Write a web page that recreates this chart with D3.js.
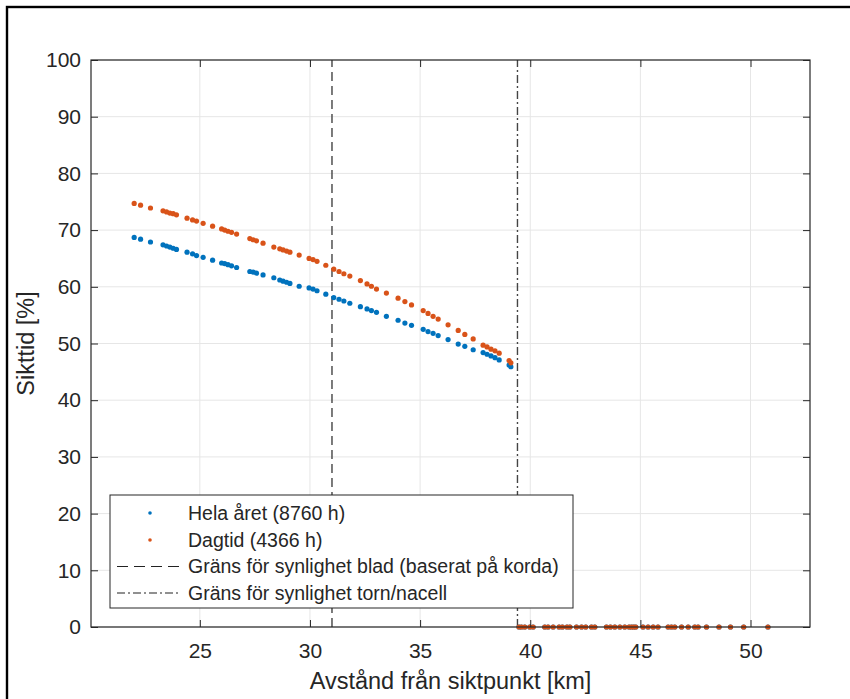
<!DOCTYPE html>
<html>
<head>
<meta charset="utf-8">
<script src="https://cdn.jsdelivr.net/npm/d3@7"></script>
<style>
body { margin: 0; background: #fff; }
svg text { font-family: "Liberation Sans", Arial, sans-serif; fill: #262626; }
.grid line { stroke: #e6e6e6; stroke-width: 1; }
.tick line { stroke: #262626; }
</style>
</head>
<body>
<svg class="chartsvg" width="850" height="699"></svg>
<script>
// distance to each site (km)
var avstand = [22.02, 22.31, 22.76, 23.33, 23.49, 23.64, 23.79, 23.94, 24.42, 24.67,
	24.85, 25.15, 25.58, 25.99, 26.13, 26.28, 26.44, 26.67, 27.27, 27.42,
	27.57, 27.87, 28.36, 28.63, 28.78, 28.94, 29.09, 29.51, 29.96, 30.14,
	30.32, 30.72, 31.08, 31.32, 31.54, 31.81, 32.29, 32.59, 32.79, 33.02,
	33.47, 34.0, 34.31, 34.61, 35.14, 35.36, 35.59, 35.82, 36.27, 36.73,
	37.03, 37.41, 37.86, 38.04, 38.22, 38.40, 38.59, 39.04, 39.12,
	39.49, 39.60, 39.75, 39.98, 40.13, 40.66, 40.81, 41.04, 41.31, 41.46,
	41.67, 41.80, 42.10, 42.33, 42.52, 42.78, 42.93, 43.46, 43.64, 43.84,
	44.07, 44.29, 44.49, 44.60, 44.70, 44.79, 45.12, 45.35, 45.58, 45.80,
	46.26, 46.41, 46.56, 46.87, 47.17, 47.47, 47.62, 48.00, 48.57, 49.09,
	49.69, 50.79];

// sikttid hela året (%)
var helaAret = [68.7, 68.4, 67.9, 67.4, 67.2, 67.0, 66.8, 66.6, 66.1, 65.8,
	65.5, 65.2, 64.7, 64.2, 64.1, 63.9, 63.7, 63.4, 62.7, 62.6,
	62.4, 62.1, 61.6, 61.2, 61.0, 60.8, 60.6, 60.1, 59.8, 59.6,
	59.3, 58.7, 58.1, 57.8, 57.5, 57.1, 56.5, 56.1, 55.8, 55.5,
	54.8, 54.1, 53.6, 53.2, 52.5, 52.1, 51.8, 51.4, 50.7, 49.9,
	49.5, 48.9, 48.4, 48.1, 47.8, 47.5, 47.1, 46.2, 45.9,
	0, 0, 0, 0, 0, 0, 0, 0, 0, 0,
	0, 0, 0, 0, 0, 0, 0, 0, 0, 0,
	0, 0, 0, 0, 0, 0, 0, 0, 0, 0,
	0, 0, 0, 0, 0, 0, 0, 0, 0, 0,
	0, 0];

// sikttid dagtid (%)
var dagtid = [74.7, 74.4, 73.9, 73.4, 73.2, 73.0, 72.9, 72.7, 72.1, 71.8,
	71.6, 71.2, 70.7, 70.2, 70.0, 69.8, 69.6, 69.3, 68.5, 68.3,
	68.1, 67.7, 67.0, 66.7, 66.5, 66.3, 66.1, 65.6, 65.0, 64.8,
	64.5, 63.8, 63.1, 62.7, 62.3, 61.9, 61.1, 60.5, 60.1, 59.6,
	58.9, 58.0, 57.4, 56.8, 55.8, 55.3, 54.8, 54.3, 53.3, 52.3,
	51.6, 50.8, 49.7, 49.4, 49.0, 48.7, 48.3, 47.0, 46.6,
	0, 0, 0, 0, 0, 0, 0, 0, 0, 0,
	0, 0, 0, 0, 0, 0, 0, 0, 0, 0,
	0, 0, 0, 0, 0, 0, 0, 0, 0, 0,
	0, 0, 0, 0, 0, 0, 0, 0, 0, 0,
	0, 0];

var xTicks = [25, 30, 35, 40, 45, 50];
var yTicks = [0, 10, 20, 30, 40, 50, 60, 70, 80, 90, 100];
var xDomain = [20.06, 52.7];
var yDomain = [0, 100];

// synlighetsgränser (km)
var gransBlad = 31.0;
var gransTorn = 39.42;

var legendText = ["Hela året (8760 h)", "Dagtid (4366 h)",
	"Gräns för synlighet blad (baserat på korda)", "Gräns för synlighet torn/nacell"];

var margin = {top: 60, right: 40, bottom: 72, left: 91};
var width = 850 - margin.left - margin.right;
var height = 699 - margin.top - margin.bottom;

var blue = "#0072BD", orange = "#D95319";

var svg = d3.select(".chartsvg");

// outer frame
svg.append("rect")
	.attr("x", 7).attr("y", 7)
	.attr("width", 870).attr("height", 720)
	.attr("fill", "none")
	.attr("stroke", "#000")
	.attr("stroke-width", 2.4);

var g = svg.append("g")
	.attr("transform", "translate(" + margin.left + "," + margin.top + ")");

var x = d3.scaleLinear().domain(xDomain).range([0, width]);
var y = d3.scaleLinear().domain(yDomain).range([height, 0]);

// grid
g.append("g").attr("class", "grid")
	.selectAll("line").data(xTicks).enter().append("line")
	.attr("x1", function(d) { return x(d); }).attr("x2", function(d) { return x(d); })
	.attr("y1", 0).attr("y2", height);
g.append("g").attr("class", "grid")
	.selectAll("line").data(yTicks).enter().append("line")
	.attr("y1", function(d) { return y(d); }).attr("y2", function(d) { return y(d); })
	.attr("x1", 0).attr("x2", width);

// limit lines
g.append("line")
	.attr("x1", x(gransBlad)).attr("x2", x(gransBlad))
	.attr("y1", y(0)).attr("y2", y(100))
	.attr("stroke", "#444").attr("stroke-width", 1.4)
	.attr("stroke-dasharray", "9,5");
g.append("line")
	.attr("x1", x(gransTorn)).attr("x2", x(gransTorn))
	.attr("y1", y(0)).attr("y2", y(100))
	.attr("stroke", "#444").attr("stroke-width", 1.4)
	.attr("stroke-dasharray", "8,3,2,3");

// points
g.append("g").selectAll("circle").data(avstand).enter().append("circle")
	.attr("cx", function(d) { return x(d); })
	.attr("cy", function(d, i) { return y(helaAret[i]); })
	.attr("r", 2.6)
	.attr("fill", blue);
g.append("g").selectAll("circle").data(avstand).enter().append("circle")
	.attr("cx", function(d) { return x(d); })
	.attr("cy", function(d, i) { return y(dagtid[i]); })
	.attr("r", 2.6)
	.attr("fill", orange);

// axes (ticks inward, mirrored on top/right)
var xAxis = g.append("g")
	.attr("transform", "translate(0," + height + ")")
	.call(d3.axisBottom(x).tickValues(xTicks).tickSizeInner(-7).tickSizeOuter(0).tickPadding(16));
var yAxis = g.append("g")
	.call(d3.axisLeft(y).tickValues(yTicks).tickSizeInner(-7).tickSizeOuter(0).tickPadding(10));
g.append("g")
	.call(d3.axisTop(x).tickValues(xTicks).tickSizeInner(-7).tickSizeOuter(0).tickFormat(""));
g.append("g")
	.attr("transform", "translate(" + width + ",0)")
	.call(d3.axisRight(y).tickValues(yTicks).tickSizeInner(-7).tickSizeOuter(0).tickFormat(""));

g.selectAll(".domain").remove();
xAxis.selectAll("text").style("font-size", "21px").attr("dy", "0.71em");
yAxis.selectAll("text").style("font-size", "21px");

g.append("rect")
	.attr("width", width).attr("height", height)
	.attr("fill", "none")
	.attr("stroke", "#262626")
	.attr("stroke-width", 1.2);

// axis labels
svg.append("text")
	.attr("x", margin.left + width / 2)
	.attr("y", 689)
	.style("text-anchor", "middle")
	.style("font-size", "23.5px")
	.text("Avstånd från siktpunkt [km]");
svg.append("text")
	.attr("transform", "translate(34," + (margin.top + height / 2) + ") rotate(-90)")
	.style("text-anchor", "middle")
	.style("font-size", "23.5px")
	.text("Sikttid [%]");

// legend
var legendgroup = svg.append("g").attr("class", "legendgroup");
legendgroup.append("rect")
	.attr("x", 110).attr("y", 495)
	.attr("width", 463).attr("height", 113)
	.attr("fill", "#fff")
	.attr("stroke", "#262626")
	.attr("stroke-width", 1);

var rowY = [513, 540, 566.5, 593];
legendgroup.append("circle")
	.attr("cx", 150).attr("cy", rowY[0]).attr("r", 1.8).attr("fill", blue);
legendgroup.append("circle")
	.attr("cx", 150).attr("cy", rowY[1]).attr("r", 1.8).attr("fill", orange);
legendgroup.append("line")
	.attr("x1", 117).attr("x2", 179)
	.attr("y1", rowY[2]).attr("y2", rowY[2])
	.attr("stroke", "#222").attr("stroke-width", 1.2)
	.attr("stroke-dasharray", "11,6");
legendgroup.append("line")
	.attr("x1", 117).attr("x2", 179)
	.attr("y1", rowY[3]).attr("y2", rowY[3])
	.attr("stroke", "#222").attr("stroke-width", 1.2)
	.attr("stroke-dasharray", "8,3,2,3");

legendgroup.selectAll(".legtext").data(legendText).enter().append("text")
	.attr("class", "legtext")
	.attr("x", 188)
	.attr("y", function(d, i) { return rowY[i]; })
	.attr("dy", "0.35em")
	.style("font-size", "19.5px")
	.text(function(d) { return d; });
</script>
</body>
</html>
